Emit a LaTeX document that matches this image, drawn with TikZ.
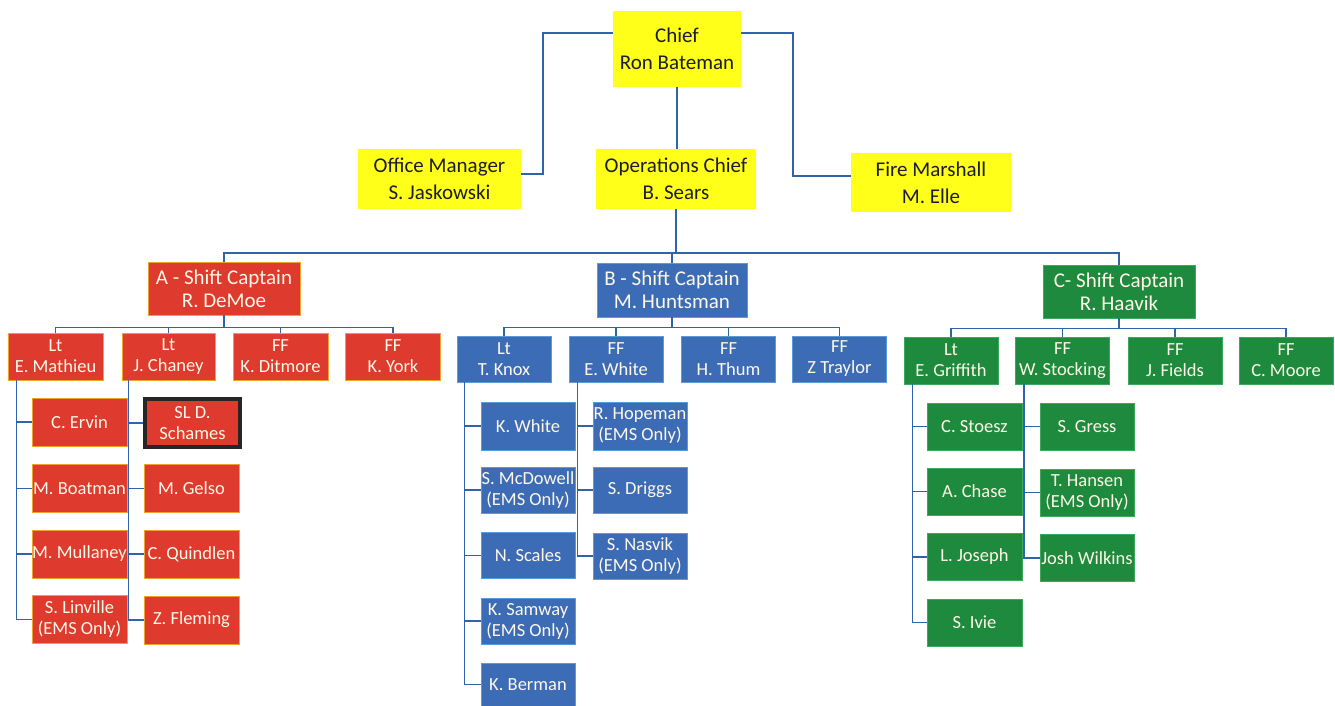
\documentclass[tikz,border=0pt]{standalone}
\usepackage{fontspec}
\setmainfont{Carlito}
\usetikzlibrary{calc}
\definecolor{yel}{HTML}{FFFF1A}
\definecolor{redf}{HTML}{DE3A2D}
\definecolor{redb}{HTML}{F0A030}
\definecolor{bluef}{HTML}{3D6CB6}
\definecolor{blueb}{HTML}{5A9AD8}
\definecolor{greenf}{HTML}{1E8A3E}
\definecolor{greenb}{HTML}{3CA85A}
\definecolor{linec}{HTML}{2E64AC}
\definecolor{ytext}{HTML}{1C1C30}
\definecolor{wtext}{HTML}{FFF8E8}
\tikzset{
  conn/.style={draw=linec, line width=1.5pt},
  wh/.style 2 args={minimum width=#1pt, minimum height=#2pt},
  ybox/.style={fill=yel, text=ytext, inner sep=0pt, align=center, font=\fontsize{21}{27}\selectfont},
  capbox/.style={inner sep=0pt, align=center, text=wtext, font=\fontsize{21}{23}\selectfont},
  smbox/.style={inner sep=0pt, align=center, text=wtext, font=\fontsize{18.5}{21}\selectfont},
  redn/.style={fill=redf, draw=redb, line width=0.8pt},
  bluen/.style={fill=bluef, draw=blueb, line width=0.8pt},
  greenn/.style={fill=greenf, draw=greenb, line width=0.8pt},
}
\begin{document}
\begin{tikzpicture}[x=1pt,y=-1pt]
\useasboundingbox (0,0) rectangle (1335,706);
% top level
\node[ybox, wh={128}{76}] (chief) at (677,49) {Chief\\Ron Bateman};
\node[ybox, wh={163}{60}] (office) at (439.5,179) {Office Manager\\S. Jaskowski};
\node[ybox, wh={160}{60}] (ops) at (676,179) {Operations Chief\\B. Sears};
\node[ybox, wh={160}{59}] (fm) at (931,182.5) {Fire Marshall\\M. Elle};
% captains
\node[capbox, redn, wh={152}{53}] (capA) at (224,288.5) {A - Shift Captain\\R. DeMoe};
\node[capbox, bluen, wh={150}{54}] (capB) at (672,290) {B - Shift Captain\\M. Huntsman};
\node[capbox, greenn, wh={152}{53}] (capC) at (1119,291.5) {C- Shift Captain\\R. Haavik};
% red row
\node[smbox, redn, wh={95}{47}] (a1) at (55.5,356.5) {Lt\\E. Mathieu};
\node[smbox, redn, wh={93}{47}] (a2) at (168.5,356.5) {Lt\\J. Chaney};
\node[smbox, redn, wh={95}{47}] (a3) at (280.5,356.5) {FF\\K. Ditmore};
\node[smbox, redn, wh={95}{47}] (a4) at (393,356.5) {FF\\K. York};
\node[smbox, redn, wh={95}{48}] (a11) at (79.5,422) {C. Ervin};
\node[smbox, redn, wh={95}{48}] (a12) at (79.5,488.5) {M. Boatman};
\node[smbox, redn, wh={95}{48}] (a13) at (79.5,554) {M. Mullaney};
\node[smbox, redn, wh={95}{48}] (a14) at (79.5,619.5) {S. Linville\\(EMS Only)};
\node[smbox, fill=redf, draw=black!85, line width=3.5pt, wh={95}{48}] (a21) at (192.5,423) {SL D.\\Schames};
\node[smbox, redn, wh={95}{48}] (a22) at (191.5,488.5) {M. Gelso};
\node[smbox, redn, wh={95}{48}] (a23) at (191.5,554) {C. Quindlen};
\node[smbox, redn, wh={95}{48}] (a24) at (191.5,620) {Z. Fleming};
% blue row
\node[smbox, bluen, wh={94}{46}] (b1) at (504,359) {Lt\\T. Knox};
\node[smbox, bluen, wh={94}{46}] (b2) at (616,359) {FF\\E. White};
\node[smbox, bluen, wh={94}{46}] (b3) at (728.5,359) {FF\\H. Thum};
\node[smbox, bluen, wh={94}{46}] (b4) at (839.5,359) {FF\\Z Traylor};
\node[smbox, bluen, wh={94}{48}] (b11) at (528,426) {K. White};
\node[smbox, bluen, wh={94}{46}] (b12) at (528,490) {S. McDowell\\(EMS Only)};
\node[smbox, bluen, wh={94}{46}] (b13) at (528,555.5) {N. Scales};
\node[smbox, bluen, wh={94}{46}] (b14) at (528,621) {K. Samway\\(EMS Only)};
\node[smbox, bluen, wh={94}{43}] (b15) at (528,684.5) {K. Berman};
\node[smbox, bluen, wh={94}{48}] (b21) at (640,426) {R. Hopeman\\(EMS Only)};
\node[smbox, bluen, wh={94}{46}] (b22) at (640,490) {S. Driggs};
\node[smbox, bluen, wh={94}{46}] (b23) at (640,556) {S. Nasvik\\(EMS Only)};
% green row
\node[smbox, greenn, wh={94}{47}] (g1) at (951,360.5) {Lt\\E. Griffith};
\node[smbox, greenn, wh={94}{47}] (g2) at (1062.5,360.5) {FF\\W. Stocking};
\node[smbox, greenn, wh={94}{47}] (g3) at (1175,360.5) {FF\\J. Fields};
\node[smbox, greenn, wh={94}{47}] (g4) at (1286,360.5) {FF\\C. Moore};
\node[smbox, greenn, wh={95}{47}] (g11) at (974.5,426.5) {C. Stoesz};
\node[smbox, greenn, wh={95}{47}] (g12) at (974.5,491.5) {A. Chase};
\node[smbox, greenn, wh={95}{47}] (g13) at (974.5,557) {L. Joseph};
\node[smbox, greenn, wh={95}{47}] (g14) at (974.5,622.5) {S. Ivie};
\node[smbox, greenn, wh={94}{47}] (g21) at (1087,426.5) {S. Gress};
\node[smbox, greenn, wh={94}{47}] (g22) at (1087,492.5) {T. Hansen\\(EMS Only)};
\node[smbox, greenn, wh={94}{47}] (g23) at (1087,558) {Josh Wilkins};
% connectors top
\draw[conn] ([yshift=16pt]chief.west) -- ++(-70,0) |- ([yshift=5pt]office.east);
\draw[conn] ([yshift=16pt]chief.east) -- ++(52,0) |- ([yshift=6.5pt]fm.west);
\draw[conn] (chief.south) -- (chief.south |- ops.north);
\draw[conn] (ops.south) -- ++(0,44) coordinate (bus);
\draw[conn] (capA.north) |- (bus) -| (capC.north);
\draw[conn] (capB.north) -- (capB.north |- bus);
% red connectors
\draw[conn] (capA.south) -- ++(0,12) coordinate (abus);
\draw[conn] (a1.north) |- (abus) -| (a4.north);
\draw[conn] (a2.north) -- (a2.north |- abus);
\draw[conn] (a3.north) -- (a3.north |- abus);
\draw[conn] ([xshift=9pt]a1.south west) coordinate (la) |- (a14.west);
\foreach \n in {a11,a12,a13} \draw[conn] (\n.west) -- (\n.west -| la);
\draw[conn] ([xshift=7pt]a2.south west) coordinate (lb) |- (a24.west);
\foreach \n in {a21,a22,a23} \draw[conn] (\n.west) -- (\n.west -| lb);
% blue connectors
\draw[conn] (capB.south) -- ++(0,10) coordinate (bbus);
\draw[conn] (b1.north) |- (bbus) -| (b4.north);
\draw[conn] (b2.north) -- (b2.north |- bbus);
\draw[conn] (b3.north) -- (b3.north |- bbus);
\draw[conn] ([xshift=8pt]b1.south west) coordinate (lc) |- (b15.west);
\foreach \n in {b11,b12,b13,b14} \draw[conn] (\n.west) -- (\n.west -| lc);
\draw[conn] ([xshift=9pt]b2.south west) coordinate (ld) |- (b23.west);
\foreach \n in {b21,b22} \draw[conn] (\n.west) -- (\n.west -| ld);
% green connectors
\draw[conn] (capC.south) -- ++(0,10) coordinate (gbus);
\draw[conn] (g1.north) |- (gbus) -| (g4.north);
\draw[conn] (g2.north) -- (g2.north |- gbus);
\draw[conn] (g3.north) -- (g3.north |- gbus);
\draw[conn] ([xshift=9pt]g1.south west) coordinate (le) |- (g14.west);
\foreach \n in {g11,g12,g13} \draw[conn] (\n.west) -- (\n.west -| le);
\draw[conn] ([xshift=9pt]g2.south west) coordinate (lf) |- (g23.west);
\foreach \n in {g21,g22} \draw[conn] (\n.west) -- (\n.west -| lf);
\end{tikzpicture}
\end{document}
